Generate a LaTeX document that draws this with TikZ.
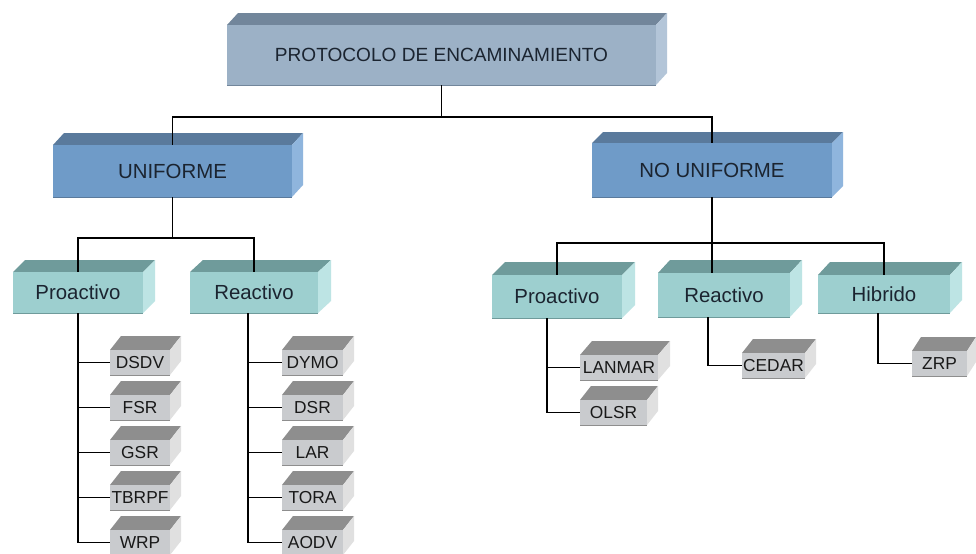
\documentclass[tikz,border=0pt]{standalone}
\usepackage{fontspec}
\setmainfont{Liberation Sans}

% face colours of the four box families
\definecolor{rootF}{HTML}{9CB1C6}
\definecolor{rootT}{HTML}{72869B}
\definecolor{rootS}{HTML}{B3C5D8}
\definecolor{lvlaF}{HTML}{6F9BC8}
\definecolor{lvlaT}{HTML}{5A7A9C}
\definecolor{lvlaS}{HTML}{8FB5DD}
\definecolor{lvlbF}{HTML}{9DCFCF}
\definecolor{lvlbT}{HTML}{6F9B9B}
\definecolor{lvlbS}{HTML}{BDE4E4}
\definecolor{leafF}{HTML}{C9CBCE}
\definecolor{leafT}{HTML}{8E8E8E}
\definecolor{leafS}{HTML}{E0E0E0}
\definecolor{txt}{HTML}{1B2430}

\tikzset{
  conn/.style={draw=black, line width=0.8pt},
  rootfront/.style={fill=rootF, text=txt, inner sep=0pt, font=\fontsize{14.3}{16}\selectfont},
  roottop/.style={fill=rootT}, rootside/.style={fill=rootS},
  lvlafront/.style={fill=lvlaF, text=txt, inner sep=0pt, font=\fontsize{15.3}{17}\selectfont},
  lvlatop/.style={fill=lvlaT}, lvlaside/.style={fill=lvlaS},
  lvlbfront/.style={fill=lvlbF, text=txt, inner sep=0pt, font=\fontsize{15.3}{17}\selectfont},
  lvlbtop/.style={fill=lvlbT}, lvlbside/.style={fill=lvlbS},
  leaffront/.style={fill=leafF, text=black!90, inner sep=0pt, font=\fontsize{13}{15}\selectfont},
  leaftop/.style={fill=leafT}, leafside/.style={fill=leafS},
}

% 3-D box: name, x1, y1, x2, y2 (front face), depth x, depth y, family, text
\newcommand\drawcube[9]{%
  \pgfmathsetmacro\cubew{(#4-#2)*0.75}%
  \pgfmathsetmacro\cubeh{(#5-#3)*0.75}%
  \fill[#8top] (#2,#3) -- ++(#6,-#7) -- ++(#4-#2,0) -- (#4,#3) -- cycle;
  \fill[#8side] (#4,#3) -- ++(#6,-#7) -- ++(0,#5-#3) -- (#4,#5) -- cycle;
  \node[#8front, minimum width=\cubew pt, minimum height=\cubeh pt] (#1) at ({(#2+#4)/2},{(#3+#5)/2}) {#9};
  \draw[draw=#8T, line width=0.6pt] (#2,#5) -- (#4,#5);
}

\begin{document}
\begin{tikzpicture}[x=0.75pt,y=-0.75pt]
\fill[white] (0,0) rectangle (976,554);
\useasboundingbox (0,0) rectangle (976,554);

% root and first level
\drawcube{root}{227}{25}{656}{85}{11}{12}{root}{PROTOCOLO DE ENCAMINAMIENTO}
\drawcube{uni}{53}{145}{292}{197}{11}{12}{lvla}{UNIFORME}
\drawcube{nouni}{592}{143}{832}{197}{11}{11}{lvla}{NO UNIFORME}

% second level
\drawcube{pl}{13}{272}{143}{313}{12}{12}{lvlb}{Proactivo}
\drawcube{rl}{190}{272}{318}{313}{13}{12}{lvlb}{Reactivo}
\drawcube{pr}{492}{275}{622}{318}{13}{13}{lvlb}{Proactivo}
\drawcube{rr}{658}{273}{790}{317}{12}{13}{lvlb}{Reactivo}
\drawcube{hr}{818}{275}{950}{313}{12}{13}{lvlb}{Hibrido}

% protocols, uniform proactive
\drawcube{dsdv}{110}{350}{170}{375}{11}{14}{leaf}{DSDV}
\drawcube{fsr}{110}{395}{170}{420}{11}{14}{leaf}{FSR}
\drawcube{gsr}{110}{440}{170}{465}{11}{14}{leaf}{GSR}
\drawcube{tbrpf}{110}{485}{170}{510}{11}{14}{leaf}{TBRPF}
\drawcube{wrp}{110}{530}{170}{555}{11}{14}{leaf}{WRP}
% protocols, uniform reactive
\drawcube{dymo}{282}{350}{343}{375}{11}{14}{leaf}{DYMO}
\drawcube{dsr}{282}{395}{343}{420}{11}{14}{leaf}{DSR}
\drawcube{lar}{282}{440}{343}{465}{11}{14}{leaf}{LAR}
\drawcube{tora}{282}{485}{343}{510}{11}{14}{leaf}{TORA}
\drawcube{aodv}{282}{530}{343}{555}{11}{14}{leaf}{AODV}
% protocols, non-uniform
\drawcube{lanmar}{580}{355}{658}{380}{12}{14}{leaf}{LANMAR}
\drawcube{olsr}{580}{400}{647}{425}{11}{14}{leaf}{OLSR}
\drawcube{cedar}{742}{353}{805}{378}{11}{14}{leaf}{CEDAR}
\drawcube{zrp}{912}{351}{967}{376}{9}{14}{leaf}{ZRP}

% connectors, upper levels
\coordinate (j0) at (root.south |- 0,117);
\draw[conn] (root.south) -- (j0);
\draw[conn] (uni.north) |- (j0) -| (nouni.north);
\coordinate (j1) at (uni.south |- 0,238);
\draw[conn] (uni.south) -- (j1);
\draw[conn] (pl.north) |- (j1) -| (rl.north);
\coordinate (j2) at (nouni.south |- 0,243);
\draw[conn] (nouni.south) -- (rr.north -| nouni.south);
\draw[conn] (pr.north) |- (j2) -| (hr.north);

% connectors to the protocols
\draw[conn] (pl.south) |- (wrp.west);
\foreach \n in {dsdv,fsr,gsr,tbrpf} \draw[conn] (pl.south |- \n.west) -- (\n.west);
\coordinate (rlx) at (rl.south -| 248,0);
\draw[conn] (rlx) |- (aodv.west);
\foreach \n in {dymo,dsr,lar,tora} \draw[conn] (rlx |- \n.west) -- (\n.west);
\coordinate (prx) at (pr.south -| 547,0);
\draw[conn] (prx) |- (olsr.west);
\draw[conn] (prx |- lanmar.west) -- (lanmar.west);
\coordinate (rrx) at (rr.south -| 708,0);
\draw[conn] (rrx) |- (cedar.west);
\coordinate (hrx) at (hr.south -| 878,0);
\draw[conn] (hrx) |- (zrp.west);
\end{tikzpicture}
\end{document}
